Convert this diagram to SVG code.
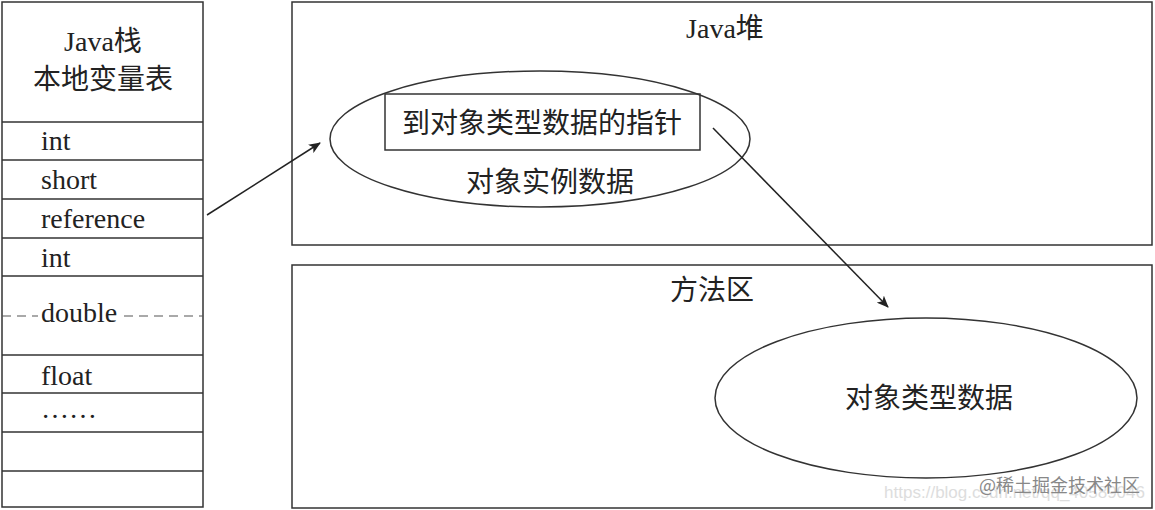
<svg xmlns="http://www.w3.org/2000/svg" width="1155" height="510" viewBox="0 0 1155 510">
<defs>
<style>
.ln{fill:none;stroke:#333;stroke-width:1.5}
.t{font-family:"Liberation Serif","Noto Sans CJK SC",serif;font-size:28px;fill:#222}
.c{font-family:"Noto Sans CJK SC","Liberation Serif",serif;font-size:28px;fill:#222}
.ar{fill:none;stroke:#222;stroke-width:1.5}
</style>
<marker id="ah" viewBox="0 0 12 10" refX="11" refY="5" markerWidth="12" markerHeight="10" markerUnits="userSpaceOnUse" orient="auto">
<path d="M0,0 L12,5 L0,10 L3,5 Z" fill="#222"/>
</marker>
</defs>
<rect width="1155" height="510" fill="#fff"/>
<g id="stack">
<rect class="ln" x="2" y="2" width="201" height="505"/>
<line class="ln" x1="2" y1="122" x2="203" y2="122"/>
<line class="ln" x1="2" y1="160" x2="203" y2="160"/>
<line class="ln" x1="2" y1="199" x2="203" y2="199"/>
<line class="ln" x1="2" y1="238" x2="203" y2="238"/>
<line class="ln" x1="2" y1="276" x2="203" y2="276"/>
<line class="ln" x1="2" y1="355" x2="203" y2="355"/>
<line class="ln" x1="2" y1="393" x2="203" y2="393"/>
<line class="ln" x1="2" y1="432" x2="203" y2="432"/>
<line class="ln" x1="2" y1="471" x2="203" y2="471"/>
<line x1="2" y1="316" x2="38" y2="316" stroke="#555" stroke-width="1.2" stroke-dasharray="9 6"/>
<line x1="124" y1="316" x2="203" y2="316" stroke="#555" stroke-width="1.2" stroke-dasharray="9 6"/>
<text class="t" x="103" y="51" text-anchor="middle" font-size="26">Java栈</text>
<text class="c" x="103" y="89" text-anchor="middle" font-size="25">本地变量表</text>
<text class="t" x="41" y="150">int</text>
<text class="t" x="41" y="189">short</text>
<text class="t" x="41" y="228">reference</text>
<text class="t" x="41" y="267">int</text>
<text class="t" x="41" y="322">double</text>
<text class="t" x="41" y="385">float</text>
<text class="t" x="41" y="418">……</text>
</g>
<g id="heap">
<rect class="ln" x="292" y="2" width="860" height="243"/>
<text class="t" x="725" y="38" text-anchor="middle" font-size="25">Java堆</text>
</g>
<g id="instance">
<ellipse class="ln" cx="540" cy="139" rx="210" ry="68"/>
<rect class="ln" x="385" y="94" width="315" height="56"/>
<text class="c" x="542" y="133" text-anchor="middle">到对象类型数据的指针</text>
<text class="c" x="550" y="192" text-anchor="middle">对象实例数据</text>
</g>
<g id="method">
<rect class="ln" x="292" y="265" width="860" height="243"/>
<text class="c" x="712" y="300" text-anchor="middle" font-size="24">方法区</text>
</g>
<g id="typedata">
<ellipse class="ln" cx="926" cy="398" rx="211" ry="80"/>
<text class="c" x="929" y="408" text-anchor="middle">对象类型数据</text>
</g>
<g id="connectors">
<line class="ar" x1="207" y1="215" x2="320" y2="143" marker-end="url(#ah)"/>
<line class="ar" x1="713" y1="128" x2="888" y2="307" marker-end="url(#ah)"/>
</g>
<g id="watermark">
<text x="1145" y="498" text-anchor="end" font-family="Liberation Sans,sans-serif" font-size="17" fill="#ddd">https://blog.csdn.net/qq_40589046</text>
<text x="1140" y="492" text-anchor="end" font-family="Noto Sans CJK SC,sans-serif" font-size="18" fill="#888">@稀土掘金技术社区</text>
</g>
</svg>
